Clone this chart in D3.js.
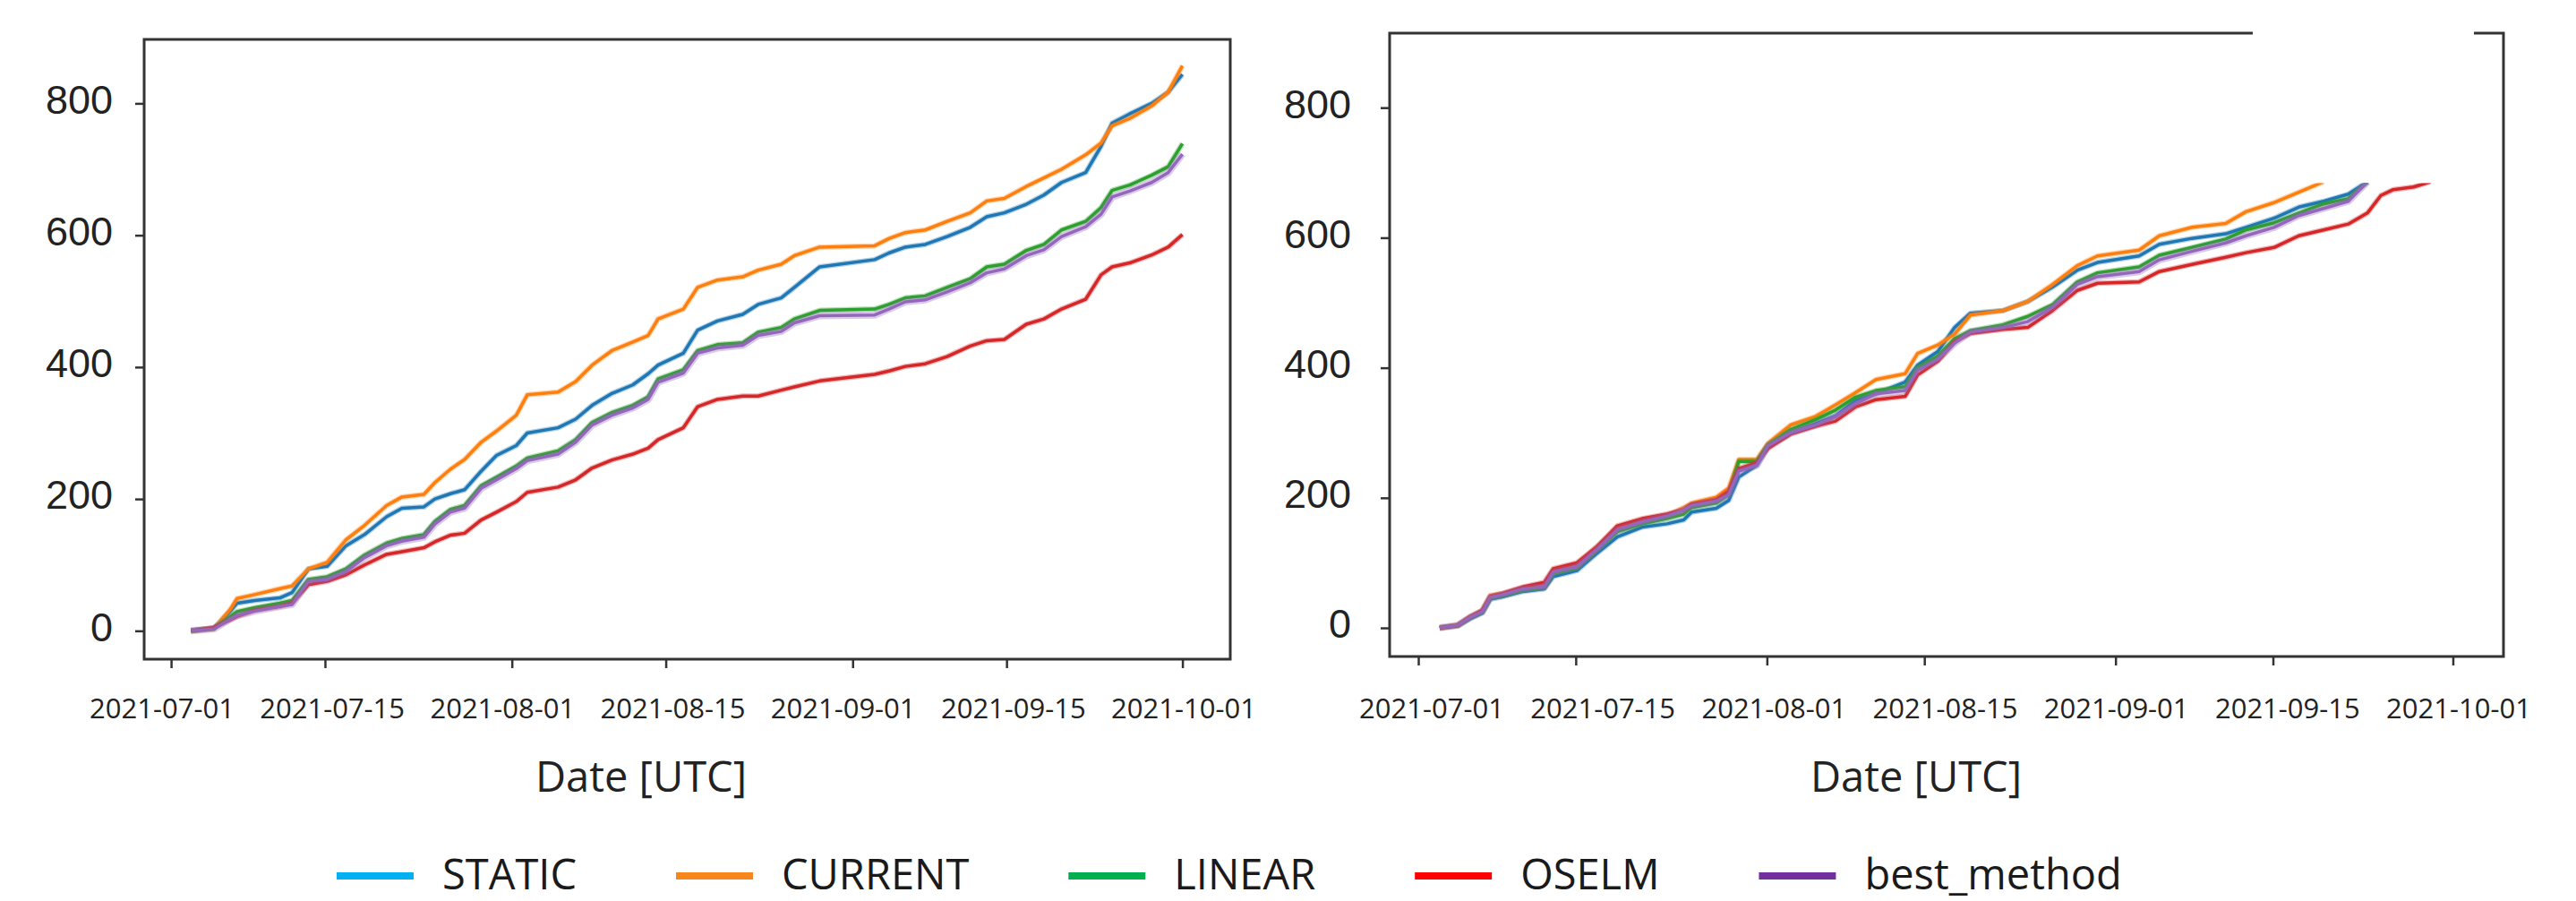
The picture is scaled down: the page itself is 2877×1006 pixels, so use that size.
<!DOCTYPE html>
<html>
<head>
<meta charset="utf-8">
<script src="https://cdn.jsdelivr.net/npm/d3@7"></script>
<style>
  body { margin: 0; background: #fff; }
  svg { display: block; font-family: "Open Sans", "Noto Sans", sans-serif; }
</style>
</head>
<body>
<svg id="chart" width="2877" height="1006"></svg>
<script>
// day offsets from 2021-07-01 00:00 UTC
var leftDays = [1.8, 3.9, 5.4, 6.0, 7.6, 9.9, 11.0, 12.5, 14.2, 15.9, 17.6, 19.6, 21.0, 23.0, 24.0, 25.4, 26.7, 28.2, 29.6, 31.4, 32.4, 35.2, 36.8, 38.3, 40.1, 42.0, 43.4, 44.3, 46.6, 47.9, 49.7, 52.0, 53.4, 55.5, 56.7, 59.0, 64.0, 65.3, 66.8, 68.6, 70.6, 72.7, 74.2, 75.8, 77.8, 79.4, 81.0, 83.2, 84.6, 85.6, 87.2, 89.2, 90.7, 92.0];
var leftStatic = [0,4,30,42,46,50,58,94,98,129,146,173,186,188,200,208,214,242,266,281,300,308,321,342,360,373,390,403,421,456,470,480,495,505,521,552,563,573,582,586,598,612,628,634,647,661,680,695,735,770,784,800,817,844];
var leftCurrent = [0,3,33,49,55,64,68,94,104,138,160,190,203,207,225,245,260,286,303,327,358,362,378,403,425,438,448,473,488,521,532,537,547,556,569,582,584,595,604,608,621,634,652,656,674,687,700,722,740,766,777,796,817,857];
var leftLinear = [0,4,22,29,35,42,46,78,82,94,115,133,140,146,166,184,190,220,233,250,262,273,290,316,331,342,355,382,396,425,434,437,453,460,473,486,488,495,505,508,521,534,552,556,577,586,608,621,642,668,676,691,704,739];
var leftOselm = [0,5,17,22,31,37,42,70,75,85,100,116,120,126,135,145,148,168,180,196,210,218,229,247,259,268,277,290,308,340,351,356,356,365,370,379,389,394,401,405,416,432,440,442,465,473,488,503,540,552,558,570,582,601];
var leftBest = [0,3,18,23,30,37,40,75,78,90,111,129,136,142,162,180,186,216,229,246,258,268,286,312,327,338,351,377,391,421,429,433,448,454,467,478,479,488,499,502,514,528,543,549,569,578,598,613,632,658,667,680,695,723];

var rightDays = [1.9, 3.5, 4.6, 5.7, 6.4, 7.5, 9.3, 11.2, 12.0, 14.1, 15.9, 17.7, 19.9, 22.1, 23.6, 24.3, 26.5, 27.6, 28.5, 30.1, 31.1, 33.1, 35.3, 37.1, 38.9, 40.7, 43.3, 44.4, 46.2, 47.7, 49.1, 52.0, 54.2, 56.4, 58.6, 60.4, 64.1, 65.9, 68.8, 71.8, 73.6, 76.1, 78.3, 80.5, 82.7, 84.4, 85.6, 86.7, 88.5, 90.0];
var rightStatic = [0,3,14,23,44,48,56,60,79,88,115,140,155,160,166,178,184,196,232,250,279,300,314,326,350,360,378,404,425,462,484,488,502,524,550,562,572,590,599,606,616,630,647,656,667,686,null,null,null,null];
var rightCurrent = [0,4,17,27,50,53,62,66,88,97,125,153,165,173,185,192,201,215,259,259,284,312,325,343,362,382,391,422,435,452,481,488,502,528,557,572,581,603,616,622,640,654,670,686,null,null,null,null,null,null];
var rightLinear = [0,4,16,25,46,50,58,62,84,92,120,148,160,168,175,185,192,205,256,256,281,305,320,335,355,365,371,400,418,445,457,466,479,497,532,546,555,573,585,598,612,623,638,652,660,686,null,null,null,null];
var rightOselm = [0,4,17,27,48,53,63,70,91,100,125,157,168,175,181,190,197,210,245,254,276,298,310,318,340,351,356,389,410,440,453,459,462,488,519,530,532,548,559,570,577,585,603,612,621,638,665,674,678,686];
var rightBest = [0,4,16,25,47,51,60,63,86,94,121,151,163,172,181,188,195,205,241,250,280,300,312,325,345,360,365,396,413,438,455,462,471,493,528,540,548,566,579,592,603,616,634,645,656,686,null,null,null,null];

var methods = ["STATIC", "CURRENT", "LINEAR", "OSELM", "best_method"];
var lineColors = ["#1f77b4", "#ff7f0e", "#2ca02c", "#d62728", "#9467bd"];
var legendColors = ["#00b0f0", "#f7861f", "#00b050", "#ff0000", "#7030a0"];
var xTickLabels = ["2021-07-01", "2021-07-15", "2021-08-01", "2021-08-15", "2021-09-01", "2021-09-15", "2021-10-01"];
var yTicks = [0, 200, 400, 600, 800];

var BASE = Date.UTC(2021, 6, 1);
function toDate(d) { return new Date(BASE + d * 864e5); }

var svg = d3.select("#chart");

var panels = [
	{ id: "l", days: leftDays, series: [leftStatic, leftCurrent, leftLinear, leftOselm, leftBest],
	  box: [161, 44, 1374, 736], xdom: [-2.45, 96.35], ydom: [-43, 897], clipTop: null,
	  ylabPad: 25, titleX: 716, labRange: [181, 1322] },
	{ id: "r", days: rightDays, series: [rightStatic, rightCurrent, rightLinear, rightOselm, rightBest],
	  box: [1552, 37, 2796, 733], xdom: [-2.55, 96.5], ydom: [-44, 914.6], clipTop: 684,
	  ylabPad: 33, titleX: 2140, labRange: [1599, 2746] }
];

panels.forEach(function(p) {
	var x = d3.scaleUtc().domain(p.xdom.map(toDate)).range([p.box[0], p.box[2]]);
	var y = d3.scaleLinear().domain(p.ydom).range([p.box[3], p.box[1]]);
	var g = svg.append("g").attr("id", "p" + p.id);

	var clipY = p.clipTop == null ? p.box[1] : y(p.clipTop);
	svg.append("clipPath").attr("id", "clip" + p.id)
		.append("rect").attr("x", p.box[0]).attr("y", clipY)
		.attr("width", p.box[2] - p.box[0]).attr("height", p.box[3] - clipY);

	var lines = g.append("g").attr("clip-path", "url(#clip" + p.id + ")");
	p.series.forEach(function(vals, i) {
		var pts = p.days.map(function(d, k) { return [toDate(d), vals[k]]; });
		var line = d3.line().defined(function(q) { return q[1] != null; })
			.x(function(q) { return x(q[0]); }).y(function(q) { return y(q[1]); });
		lines.append("path").attr("d", line(pts)).attr("fill", "none")
			.attr("stroke", lineColors[i]).attr("stroke-opacity", 0.35)
			.attr("stroke-width", i == 4 ? 8 : 6).attr("stroke-linejoin", "round");
		lines.append("path").attr("d", line(pts)).attr("fill", "none")
			.attr("stroke", lineColors[i]).attr("stroke-width", 3.5)
			.attr("stroke-linejoin", "round");
	});

	// ticks sit on the real dates
	var xAxis = d3.axisBottom(x)
		.tickValues(xTickLabels.map(function(s) { return new Date(s + "T00:00:00Z"); }))
		.tickFormat("").tickSize(10);
	var gx = g.append("g").attr("transform", "translate(0," + p.box[3] + ")").call(xAxis);
	gx.select(".domain").remove();
	gx.selectAll("line").attr("stroke", "#333").attr("stroke-width", 2.5);

	// the labels are spread evenly underneath, as in the original figure
	var lab = d3.scalePoint().domain(xTickLabels).range(p.labRange);
	g.append("g").selectAll("text").data(xTickLabels).join("text")
		.attr("x", function(d) { return lab(d); }).attr("y", 802)
		.attr("text-anchor", "middle").attr("font-size", 31).attr("fill", "#222")
		.text(function(d) { return d; });

	var yAxis = d3.axisLeft(y).tickValues(yTicks).tickSize(10).tickPadding(p.ylabPad);
	var gy = g.append("g").attr("transform", "translate(" + p.box[0] + ",0)").call(yAxis);
	gy.select(".domain").remove();
	gy.selectAll("line").attr("stroke", "#333").attr("stroke-width", 2.5);
	gy.selectAll("text").attr("font-size", 45).attr("fill", "#222").attr("dy", "0.24em").attr("font-family", null);

	g.append("rect").attr("x", p.box[0]).attr("y", p.box[1])
		.attr("width", p.box[2] - p.box[0]).attr("height", p.box[3] - p.box[1])
		.attr("fill", "none").attr("stroke", "#333").attr("stroke-width", 3);

	g.append("text").attr("x", p.titleX).attr("y", 884).attr("text-anchor", "middle")
		.attr("font-size", 47).attr("fill", "#222").text("Date [UTC]");
});

// white patch over the right frame's top edge
svg.append("rect").attr("x", 2516).attr("y", 32).attr("width", 247).attr("height", 9).attr("fill", "#fff");

// legend
var lx = 376;
var legend = svg.append("g").attr("id", "legend");
methods.forEach(function(m, i) {
	legend.append("line").attr("x1", lx).attr("x2", lx + 86).attr("y1", 978).attr("y2", 978)
		.attr("stroke", legendColors[i]).attr("stroke-width", 8);
	var t = legend.append("text").attr("x", lx + 118).attr("y", 993)
		.attr("font-size", 47).attr("fill", "#1a1a1a").text(m);
	lx += 118 + t.node().getComputedTextLength() + 111;
});
</script>
</body>
</html>
